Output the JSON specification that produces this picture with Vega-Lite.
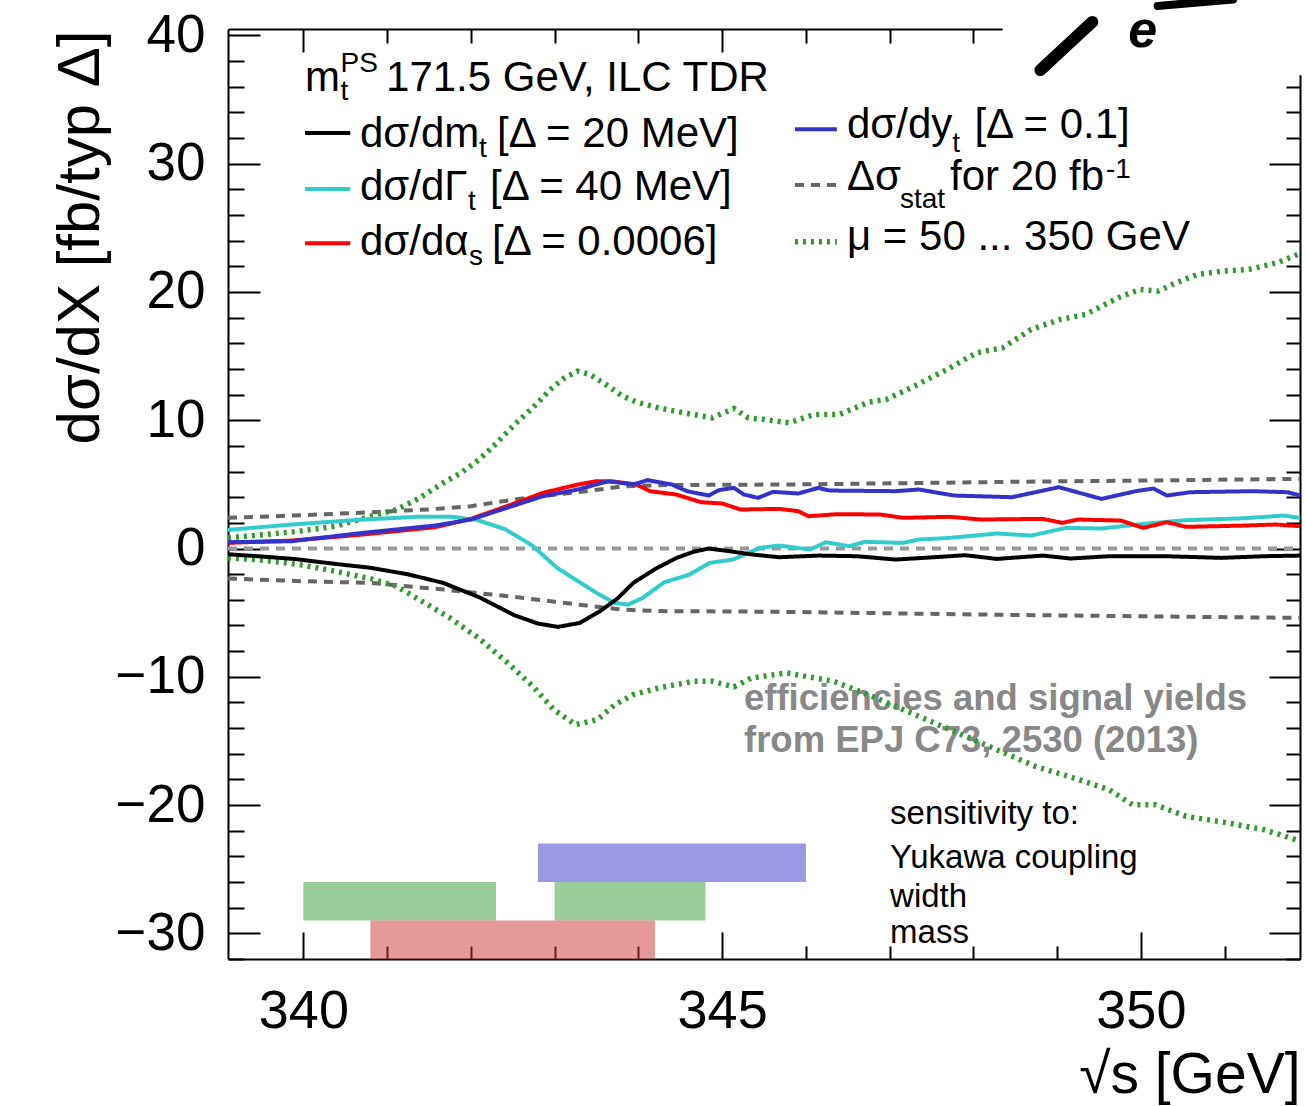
{
  "$schema": "https://vega.github.io/schema/vega-lite/v6.json",
  "width": 1072,
  "height": 930,
  "autosize": {"type": "none"},
  "padding": {"left": 228, "top": 29, "right": 5, "bottom": 147},
  "background": "white",
  "config": {"view": {"stroke": null}, "axis": {"grid": false}, "text": {"font": "Liberation Sans"}},
  "datasets": {
    "curves": [
      {"s":339.1,"v":0,"k":"zero"},{"s":351.9,"v":0,"k":"zero"},
      {"s":339.1,"v":2.39,"k":"statU"},{"s":340.0,"v":2.6,"k":"statU"},{"s":340.81,"v":2.83,"k":"statU"},{"s":341.5,"v":3.05,"k":"statU"},{"s":342.0,"v":3.3,"k":"statU"},{"s":342.52,"v":3.82,"k":"statU"},{"s":343.0,"v":4.2,"k":"statU"},{"s":343.38,"v":4.47,"k":"statU"},{"s":343.81,"v":4.84,"k":"statU"},{"s":344.24,"v":4.94,"k":"statU"},{"s":345.0,"v":4.97,"k":"statU"},{"s":345.78,"v":4.99,"k":"statU"},{"s":347.0,"v":5.08,"k":"statU"},{"s":348.5,"v":5.2,"k":"statU"},{"s":350.0,"v":5.3,"k":"statU"},{"s":351.9,"v":5.43,"k":"statU"},
      {"s":339.1,"v":-2.34,"k":"statL"},{"s":340.0,"v":-2.55,"k":"statL"},{"s":340.81,"v":-2.68,"k":"statL"},{"s":341.67,"v":-3.2,"k":"statL"},{"s":342.52,"v":-3.77,"k":"statL"},{"s":343.0,"v":-4.15,"k":"statL"},{"s":343.38,"v":-4.45,"k":"statL"},{"s":343.81,"v":-4.76,"k":"statL"},{"s":344.24,"v":-4.88,"k":"statL"},{"s":344.66,"v":-4.89,"k":"statL"},{"s":345.78,"v":-4.94,"k":"statL"},{"s":347.0,"v":-5.05,"k":"statL"},{"s":348.5,"v":-5.18,"k":"statL"},{"s":350.0,"v":-5.28,"k":"statL"},{"s":351.9,"v":-5.41,"k":"statL"},
      {"s":339.1,"v":0.83,"k":"muU"},{"s":339.53,"v":1.09,"k":"muU"},{"s":339.95,"v":1.35,"k":"muU"},{"s":340.38,"v":1.74,"k":"muU"},{"s":340.81,"v":2.52,"k":"muU"},{"s":341.11,"v":3.04,"k":"muU"},{"s":341.37,"v":3.87,"k":"muU"},{"s":341.67,"v":5.12,"k":"muU"},{"s":341.88,"v":5.9,"k":"muU"},{"s":342.1,"v":6.94,"k":"muU"},{"s":342.31,"v":8.24,"k":"muU"},{"s":342.52,"v":9.67,"k":"muU"},{"s":342.74,"v":10.97,"k":"muU"},{"s":342.95,"v":12.4,"k":"muU"},{"s":343.12,"v":13.31,"k":"muU"},{"s":343.27,"v":13.83,"k":"muU"},{"s":343.42,"v":13.57,"k":"muU"},{"s":343.64,"v":12.66,"k":"muU"},{"s":343.81,"v":11.88,"k":"muU"},{"s":343.98,"v":11.41,"k":"muU"},{"s":344.24,"v":10.97,"k":"muU"},{"s":344.58,"v":10.53,"k":"muU"},{"s":344.88,"v":10.19,"k":"muU"},{"s":345.14,"v":10.92,"k":"muU"},{"s":345.31,"v":10.19,"k":"muU"},{"s":345.5,"v":10.06,"k":"muU"},{"s":345.8,"v":9.8,"k":"muU"},{"s":346.1,"v":10.45,"k":"muU"},{"s":346.4,"v":10.45,"k":"muU"},{"s":346.75,"v":11.41,"k":"muU"},{"s":346.96,"v":11.62,"k":"muU"},{"s":347.31,"v":12.71,"k":"muU"},{"s":347.7,"v":14.01,"k":"muU"},{"s":348.04,"v":15.26,"k":"muU"},{"s":348.35,"v":15.65,"k":"muU"},{"s":348.69,"v":17.08,"k":"muU"},{"s":349.04,"v":17.86,"k":"muU"},{"s":349.34,"v":18.25,"k":"muU"},{"s":349.73,"v":19.55,"k":"muU"},{"s":349.99,"v":20.2,"k":"muU"},{"s":350.21,"v":20.07,"k":"muU"},{"s":350.42,"v":20.72,"k":"muU"},{"s":350.68,"v":21.37,"k":"muU"},{"s":350.98,"v":21.63,"k":"muU"},{"s":351.29,"v":21.76,"k":"muU"},{"s":351.63,"v":22.28,"k":"muU"},{"s":351.9,"v":23.0,"k":"muU"},
      {"s":339.1,"v":-0.73,"k":"muL"},{"s":339.53,"v":-0.91,"k":"muL"},{"s":339.95,"v":-1.25,"k":"muL"},{"s":340.38,"v":-1.77,"k":"muL"},{"s":340.81,"v":-2.37,"k":"muL"},{"s":341.11,"v":-2.94,"k":"muL"},{"s":341.45,"v":-4.24,"k":"muL"},{"s":341.75,"v":-5.41,"k":"muL"},{"s":342.09,"v":-6.97,"k":"muL"},{"s":342.44,"v":-8.92,"k":"muL"},{"s":342.74,"v":-10.74,"k":"muL"},{"s":342.99,"v":-12.56,"k":"muL"},{"s":343.25,"v":-13.73,"k":"muL"},{"s":343.51,"v":-13.34,"k":"muL"},{"s":343.72,"v":-12.17,"k":"muL"},{"s":343.94,"v":-11.39,"k":"muL"},{"s":344.24,"v":-10.87,"k":"muL"},{"s":344.66,"v":-10.35,"k":"muL"},{"s":344.88,"v":-10.35,"k":"muL"},{"s":345.14,"v":-10.79,"k":"muL"},{"s":345.35,"v":-10.09,"k":"muL"},{"s":345.77,"v":-9.7,"k":"muL"},{"s":346.33,"v":-10.35,"k":"muL"},{"s":346.79,"v":-11.52,"k":"muL"},{"s":347.35,"v":-13.08,"k":"muL"},{"s":348.0,"v":-14.9,"k":"muL"},{"s":348.74,"v":-16.98,"k":"muL"},{"s":349.2,"v":-17.89,"k":"muL"},{"s":349.62,"v":-18.8,"k":"muL"},{"s":349.9,"v":-19.97,"k":"muL"},{"s":350.17,"v":-19.97,"k":"muL"},{"s":350.54,"v":-20.88,"k":"muL"},{"s":351.0,"v":-21.35,"k":"muL"},{"s":351.47,"v":-21.92,"k":"muL"},{"s":351.9,"v":-22.8,"k":"muL"},
      {"s":339.1,"v":1.45,"k":"gt"},{"s":339.86,"v":1.87,"k":"gt"},{"s":340.71,"v":2.26,"k":"gt"},{"s":341.36,"v":2.47,"k":"gt"},{"s":341.78,"v":2.47,"k":"gt"},{"s":342.08,"v":2.22,"k":"gt"},{"s":342.41,"v":1.5,"k":"gt"},{"s":342.73,"v":0.25,"k":"gt"},{"s":343.03,"v":-1.51,"k":"gt"},{"s":343.28,"v":-2.55,"k":"gt"},{"s":343.5,"v":-3.46,"k":"gt"},{"s":343.71,"v":-4.24,"k":"gt"},{"s":343.88,"v":-4.37,"k":"gt"},{"s":344.05,"v":-3.85,"k":"gt"},{"s":344.31,"v":-2.63,"k":"gt"},{"s":344.61,"v":-2.03,"k":"gt"},{"s":344.85,"v":-1.12,"k":"gt"},{"s":345.13,"v":-0.86,"k":"gt"},{"s":345.45,"v":0.05,"k":"gt"},{"s":345.68,"v":0.23,"k":"gt"},{"s":346.05,"v":-0.08,"k":"gt"},{"s":346.24,"v":0.49,"k":"gt"},{"s":346.52,"v":0.18,"k":"gt"},{"s":346.7,"v":0.52,"k":"gt"},{"s":347.16,"v":0.44,"k":"gt"},{"s":347.35,"v":0.7,"k":"gt"},{"s":347.72,"v":0.83,"k":"gt"},{"s":348.28,"v":1.17,"k":"gt"},{"s":348.69,"v":1.01,"k":"gt"},{"s":349.11,"v":1.61,"k":"gt"},{"s":349.53,"v":1.56,"k":"gt"},{"s":350.08,"v":1.95,"k":"gt"},{"s":350.54,"v":2.21,"k":"gt"},{"s":351.24,"v":2.36,"k":"gt"},{"s":351.7,"v":2.57,"k":"gt"},{"s":351.9,"v":2.39,"k":"gt"},
      {"s":339.1,"v":-0.45,"k":"mt"},{"s":339.5,"v":-0.62,"k":"mt"},{"s":339.9,"v":-0.82,"k":"mt"},{"s":340.38,"v":-1.2,"k":"mt"},{"s":340.8,"v":-1.5,"k":"mt"},{"s":341.24,"v":-2.0,"k":"mt"},{"s":341.67,"v":-2.68,"k":"mt"},{"s":342.1,"v":-3.8,"k":"mt"},{"s":342.52,"v":-5.2,"k":"mt"},{"s":342.8,"v":-5.85,"k":"mt"},{"s":343.04,"v":-6.11,"k":"mt"},{"s":343.3,"v":-5.8,"k":"mt"},{"s":343.55,"v":-4.85,"k":"mt"},{"s":343.75,"v":-3.9,"k":"mt"},{"s":343.94,"v":-2.68,"k":"mt"},{"s":344.2,"v":-1.6,"k":"mt"},{"s":344.45,"v":-0.75,"k":"mt"},{"s":344.66,"v":-0.25,"k":"mt"},{"s":344.84,"v":0.0,"k":"mt"},{"s":345.08,"v":-0.2,"k":"mt"},{"s":345.34,"v":-0.45,"k":"mt"},{"s":345.68,"v":-0.68,"k":"mt"},{"s":346.15,"v":-0.55,"k":"mt"},{"s":346.61,"v":-0.6,"k":"mt"},{"s":347.07,"v":-0.86,"k":"mt"},{"s":347.53,"v":-0.68,"k":"mt"},{"s":347.9,"v":-0.52,"k":"mt"},{"s":348.28,"v":-0.81,"k":"mt"},{"s":348.83,"v":-0.55,"k":"mt"},{"s":349.16,"v":-0.78,"k":"mt"},{"s":349.62,"v":-0.6,"k":"mt"},{"s":350.31,"v":-0.6,"k":"mt"},{"s":350.96,"v":-0.73,"k":"mt"},{"s":351.47,"v":-0.6,"k":"mt"},{"s":351.9,"v":-0.55,"k":"mt"},
      {"s":339.1,"v":0.44,"k":"as"},{"s":339.86,"v":0.62,"k":"as"},{"s":340.71,"v":1.09,"k":"as"},{"s":341.57,"v":1.66,"k":"as"},{"s":342.0,"v":2.31,"k":"as"},{"s":342.43,"v":3.3,"k":"as"},{"s":342.86,"v":4.34,"k":"as"},{"s":343.28,"v":4.99,"k":"as"},{"s":343.5,"v":5.25,"k":"as"},{"s":343.71,"v":5.22,"k":"as"},{"s":343.97,"v":5.0,"k":"as"},{"s":344.14,"v":4.47,"k":"as"},{"s":344.45,"v":4.21,"k":"as"},{"s":344.75,"v":3.61,"k":"as"},{"s":345.0,"v":3.51,"k":"as"},{"s":345.22,"v":3.04,"k":"as"},{"s":345.68,"v":3.09,"k":"as"},{"s":345.91,"v":2.91,"k":"as"},{"s":346.03,"v":2.52,"k":"as"},{"s":346.38,"v":2.68,"k":"as"},{"s":346.89,"v":2.65,"k":"as"},{"s":347.16,"v":2.39,"k":"as"},{"s":347.72,"v":2.47,"k":"as"},{"s":348.09,"v":2.26,"k":"as"},{"s":348.83,"v":2.31,"k":"as"},{"s":349.06,"v":2.0,"k":"as"},{"s":349.25,"v":2.26,"k":"as"},{"s":349.76,"v":2.18,"k":"as"},{"s":350.03,"v":1.61,"k":"as"},{"s":350.31,"v":2.05,"k":"as"},{"s":350.54,"v":1.69,"k":"as"},{"s":351.24,"v":1.79,"k":"as"},{"s":351.61,"v":1.87,"k":"as"},{"s":351.9,"v":1.74,"k":"as"},
      {"s":339.1,"v":0.49,"k":"yt"},{"s":339.86,"v":0.57,"k":"yt"},{"s":340.71,"v":1.22,"k":"yt"},{"s":341.57,"v":1.79,"k":"yt"},{"s":342.0,"v":2.26,"k":"yt"},{"s":342.43,"v":3.17,"k":"yt"},{"s":342.86,"v":4.08,"k":"yt"},{"s":343.28,"v":4.6,"k":"yt"},{"s":343.64,"v":5.25,"k":"yt"},{"s":343.94,"v":4.99,"k":"yt"},{"s":344.11,"v":5.33,"k":"yt"},{"s":344.4,"v":4.99,"k":"yt"},{"s":344.58,"v":4.47,"k":"yt"},{"s":344.84,"v":4.13,"k":"yt"},{"s":344.96,"v":4.55,"k":"yt"},{"s":345.14,"v":4.73,"k":"yt"},{"s":345.26,"v":4.21,"k":"yt"},{"s":345.43,"v":3.95,"k":"yt"},{"s":345.61,"v":4.42,"k":"yt"},{"s":345.91,"v":4.29,"k":"yt"},{"s":346.15,"v":4.73,"k":"yt"},{"s":346.28,"v":4.52,"k":"yt"},{"s":347.07,"v":4.47,"k":"yt"},{"s":347.35,"v":4.6,"k":"yt"},{"s":347.77,"v":4.13,"k":"yt"},{"s":348.46,"v":4.0,"k":"yt"},{"s":349.02,"v":4.78,"k":"yt"},{"s":349.53,"v":3.87,"k":"yt"},{"s":349.94,"v":4.47,"k":"yt"},{"s":350.15,"v":4.68,"k":"yt"},{"s":350.31,"v":4.13,"k":"yt"},{"s":350.59,"v":4.39,"k":"yt"},{"s":351.33,"v":4.47,"k":"yt"},{"s":351.75,"v":4.39,"k":"yt"},{"s":351.9,"v":4.13,"k":"yt"}
    ],
    "bands": [
      {"x1":342.8,"x2":346.0,"y1":-26,"y2":-23,"p":"Yukawa coupling"},
      {"x1":340.0,"x2":342.3,"y1":-29,"y2":-26,"p":"width"},
      {"x1":343.0,"x2":344.8,"y1":-29,"y2":-26,"p":"width"},
      {"x1":340.8,"x2":344.2,"y1":-32,"y2":-29,"p":"mass"}
    ],
    "legendLines": [
      {"x1":340.02,"x2":340.56,"y":32.39,"k":"mt"},
      {"x1":340.02,"x2":340.56,"y":28.03,"k":"gt"},
      {"x1":340.02,"x2":340.56,"y":23.8,"k":"as"},
      {"x1":345.87,"x2":346.37,"y":32.68,"k":"yt"},
      {"x1":345.87,"x2":346.37,"y":28.34,"k":"statU"},
      {"x1":345.87,"x2":346.37,"y":23.91,"k":"muU"}
    ],
    "legendText": [
      {"x":340.019,"y":35.69,"t":"m"},
      {"x":340.987,"y":35.69,"t":"171.5 GeV, ILC TDR"},
      {"x":340.676,"y":31.33,"t":"dσ/dm"},
      {"x":342.312,"y":31.33,"t":"[Δ = 20 MeV]"},
      {"x":340.676,"y":27.17,"t":"dσ/dΓ"},
      {"x":342.229,"y":27.17,"t":"[Δ = 40 MeV]"},
      {"x":340.676,"y":22.89,"t":"dσ/dα"},
      {"x":342.253,"y":22.89,"t":"[Δ = 0.0006]"},
      {"x":346.491,"y":31.97,"t":"dσ/dy"},
      {"x":348.012,"y":31.97,"t":"[Δ = 0.1]"},
      {"x":346.491,"y":27.95,"t":"Δσ"},
      {"x":347.721,"y":27.95,"t":"for 20 fb"},
      {"x":346.491,"y":23.28,"t":"μ = 50 ... 350 GeV"}
    ],
    "legendScript": [
      {"x":340.444,"y":37.15,"t":"PS"},
      {"x":340.444,"y":34.97,"t":"t"},
      {"x":342.097,"y":30.55,"t":"t"},
      {"x":341.966,"y":26.39,"t":"t"},
      {"x":341.978,"y":22.11,"t":"s"},
      {"x":347.749,"y":30.9,"t":"t"},
      {"x":347.124,"y":26.52,"t":"stat"},
      {"x":349.583,"y":28.92,"t":"-1"}
    ],
    "sensText": [
      {"x":347.005,"y":-21.46,"t":"sensitivity to:"},
      {"x":347.005,"y":-24.89,"t":"Yukawa coupling"},
      {"x":347.005,"y":-27.93,"t":"width"},
      {"x":347.005,"y":-30.74,"t":"mass"}
    ],
    "noteText": [
      {"x":345.261,"y":-12.58,"t":"efficiencies and signal yields"},
      {"x":345.261,"y":-15.85,"t":"from EPJ C73, 2530 (2013)"}
    ]
  },
  "layer": [
    {
      "data": {"name": "bands"},
      "mark": {"type": "rect", "fillOpacity": 0.5},
      "encoding": {
        "x": {"field": "x1", "type": "quantitative", "scale": {"domain": [339.1, 351.9], "nice": false, "zero": false}, "axis": null},
        "x2": {"field": "x2"},
        "y": {"field": "y1", "type": "quantitative", "scale": {"domain": [-32, 40.5], "nice": false, "zero": false}, "axis": null},
        "y2": {"field": "y2"},
        "fill": {"field": "p", "type": "nominal", "scale": {"domain": ["Yukawa coupling", "width", "mass"], "range": ["#3333cc", "#339933", "#cc3333"]}, "legend": null}
      }
    },
    {
      "data": {"name": "noteText"},
      "mark": {"type": "text", "align": "left", "baseline": "alphabetic", "font": "Liberation Sans", "fontSize": 36.5, "fontWeight": "bold", "color": "#888888"},
      "encoding": {
        "x": {"field": "x", "type": "quantitative", "axis": null},
        "y": {"field": "y", "type": "quantitative", "axis": null},
        "text": {"field": "t"}
      }
    },
    {
      "data": {"name": "curves"},
      "mark": {"type": "line", "strokeCap": "butt"},
      "encoding": {
        "x": {"field": "s", "type": "quantitative", "scale": {"domain": [339.1, 351.9], "nice": false, "zero": false},
          "axis": {"orient": "bottom", "values": [340,341,342,343,344,345,346,347,348,349,350,351],
            "labelExpr": "datum.value % 5 === 0 ? datum.label : ''",
            "tickSize": {"condition": {"test": "datum.value % 5 === 0", "value": -27}, "value": -13},
            "tickWidth": 2, "tickColor": "#000000", "domainColor": "#000000", "domainWidth": 2,
            "labelFont": "Liberation Sans", "labelFontSize": 54, "labelColor": "#000000", "labelPadding": 52, "labelBaseline": "top",
            "labelFlush": false, "labelOverlap": false,
            "title": "√s [GeV]", "titleFont": "Liberation Sans", "titleFontSize": 57, "titleFontWeight": "normal", "titleColor": "#000000",
            "titleAlign": "right", "titleBaseline": "alphabetic", "titleAngle": 0, "titleX": 1072, "titleY": 133}},
        "y": {"field": "v", "type": "quantitative", "scale": {"domain": [-32, 40.5], "nice": false, "zero": false},
          "axis": {"orient": "left", "values": [-32,-30,-28,-26,-24,-22,-20,-18,-16,-14,-12,-10,-8,-6,-4,-2,0,2,4,6,8,10,12,14,16,18,20,22,24,26,28,30,32,34,36,38,40],
            "labelExpr": "datum.value % 10 === 0 ? datum.label : ''",
            "tickSize": {"condition": {"test": "datum.value % 10 === 0", "value": -32}, "value": -16},
            "tickWidth": 2, "tickColor": "#000000", "domainColor": "#000000", "domainWidth": 2,
            "labelFont": "Liberation Sans", "labelFontSize": 53, "labelColor": "#000000", "labelPadding": 55, "labelAlign": "right", "labelBaseline": "middle",
            "labelFlush": false, "labelOverlap": false,
            "title": "dσ/dX [fb/typ Δ]", "titleFont": "Liberation Sans", "titleFontSize": 60, "titleFontWeight": "normal", "titleColor": "#000000",
            "titleAngle": 270, "titleAlign": "right", "titleBaseline": "alphabetic", "titleX": -130, "titleY": 1}},
        "detail": {"field": "k"},
        "color": {"field": "k", "type": "nominal", "scale": {"domain": ["zero","statU","statL","muU","muL","gt","mt","as","yt"], "range": ["#999999","#666666","#666666","#339933","#339933","#33cccc","#000000","#ff0000","#3333cc"]}, "legend": null},
        "strokeDash": {"field": "k", "type": "nominal", "scale": {"domain": ["zero","statU","statL","muU","muL","gt","mt","as","yt"], "range": [[9,7],[9,7],[9,7],[3,5],[3,5],[1,0],[1,0],[1,0],[1,0]]}, "legend": null},
        "strokeWidth": {"condition": {"test": "datum.k === 'muU' || datum.k === 'muL'", "value": 5.5}, "value": 4}
      }
    },
    {
      "data": {"name": "legendLines"},
      "mark": {"type": "rule", "strokeCap": "butt"},
      "encoding": {
        "x": {"field": "x1", "type": "quantitative", "scale": {"domain": [339.1, 351.9], "nice": false, "zero": false},
          "axis": {"orient": "top", "values": [340,341,342,343,344,345,346,347,348,349,350,351], "labels": false, "title": null,
            "tickSize": {"condition": {"test": "datum.value % 5 === 0", "value": -23}, "value": -14},
            "tickWidth": 2, "tickColor": "#000000", "domainColor": "#000000", "domainWidth": 2}},
        "x2": {"field": "x2"},
        "y": {"field": "y", "type": "quantitative", "scale": {"domain": [-32, 40.5], "nice": false, "zero": false},
          "axis": {"orient": "right", "values": [-32,-30,-28,-26,-24,-22,-20,-18,-16,-14,-12,-10,-8,-6,-4,-2,0,2,4,6,8,10,12,14,16,18,20,22,24,26,28,30,32,34,36,38,40], "labels": false, "title": null,
            "tickSize": {"condition": {"test": "datum.value % 10 === 0", "value": -31}, "value": -14},
            "tickWidth": 2, "tickColor": "#000000", "domainColor": "#000000", "domainWidth": 2}},
        "color": {"field": "k", "type": "nominal", "scale": {"domain": ["zero","statU","statL","muU","muL","gt","mt","as","yt"], "range": ["#999999","#666666","#666666","#339933","#339933","#33cccc","#000000","#ff0000","#3333cc"]}, "legend": null},
        "strokeDash": {"field": "k", "type": "nominal", "scale": {"domain": ["zero","statU","statL","muU","muL","gt","mt","as","yt"], "range": [[9,7],[9,7],[9,7],[3,5],[3,5],[1,0],[1,0],[1,0],[1,0]]}, "legend": null},
        "strokeWidth": {"condition": {"test": "datum.k === 'muU'", "value": 5.5}, "value": 4}
      }
    },
    {
      "data": {"name": "legendText"},
      "mark": {"type": "text", "align": "left", "baseline": "alphabetic", "font": "Liberation Sans", "fontSize": 42, "color": "#000000"},
      "encoding": {
        "x": {"field": "x", "type": "quantitative", "axis": null},
        "y": {"field": "y", "type": "quantitative", "axis": null},
        "text": {"field": "t"}
      }
    },
    {
      "data": {"name": "legendScript"},
      "mark": {"type": "text", "align": "left", "baseline": "alphabetic", "font": "Liberation Sans", "fontSize": 28, "color": "#000000"},
      "encoding": {
        "x": {"field": "x", "type": "quantitative", "axis": null},
        "y": {"field": "y", "type": "quantitative", "axis": null},
        "text": {"field": "t"}
      }
    },
    {
      "data": {"name": "sensText"},
      "mark": {"type": "text", "align": "left", "baseline": "alphabetic", "font": "Liberation Sans", "fontSize": 33, "color": "#000000"},
      "encoding": {
        "x": {"field": "x", "type": "quantitative", "axis": null},
        "y": {"field": "y", "type": "quantitative", "axis": null},
        "text": {"field": "t"}
      }
    },
    {
      "data": {"values": [{}]},
      "mark": {"type": "rect", "fill": "white"},
      "encoding": {
        "x": {"datum": 348.35, "type": "quantitative", "axis": null},
        "x2": {"datum": 352.2},
        "y": {"datum": 36.9, "type": "quantitative", "axis": null},
        "y2": {"datum": 43.0}
      }
    },
    {
      "data": {"values": [{}]},
      "mark": {"type": "rule", "color": "black", "strokeWidth": 12, "strokeCap": "round"},
      "encoding": {
        "x": {"datum": 348.8, "type": "quantitative", "axis": null},
        "x2": {"datum": 349.42},
        "y": {"datum": 37.3, "type": "quantitative", "axis": null},
        "y2": {"datum": 41.05}
      }
    },
    {
      "data": {"values": [{}]},
      "mark": {"type": "rule", "color": "black", "strokeWidth": 8, "strokeCap": "round"},
      "encoding": {
        "x": {"datum": 350.2, "type": "quantitative", "axis": null},
        "x2": {"datum": 351.1},
        "y": {"datum": 42.3, "type": "quantitative", "axis": null},
        "y2": {"datum": 42.8}
      }
    },
    {
      "data": {"values": [{}]},
      "mark": {"type": "text", "text": "e", "align": "left", "baseline": "alphabetic", "font": "Liberation Sans", "fontSize": 52, "fontStyle": "italic", "fontWeight": "bold", "color": "black"},
      "encoding": {
        "x": {"datum": 349.85, "type": "quantitative", "axis": null},
        "y": {"datum": 39.1, "type": "quantitative", "axis": null}
      }
    }
  ]
}
